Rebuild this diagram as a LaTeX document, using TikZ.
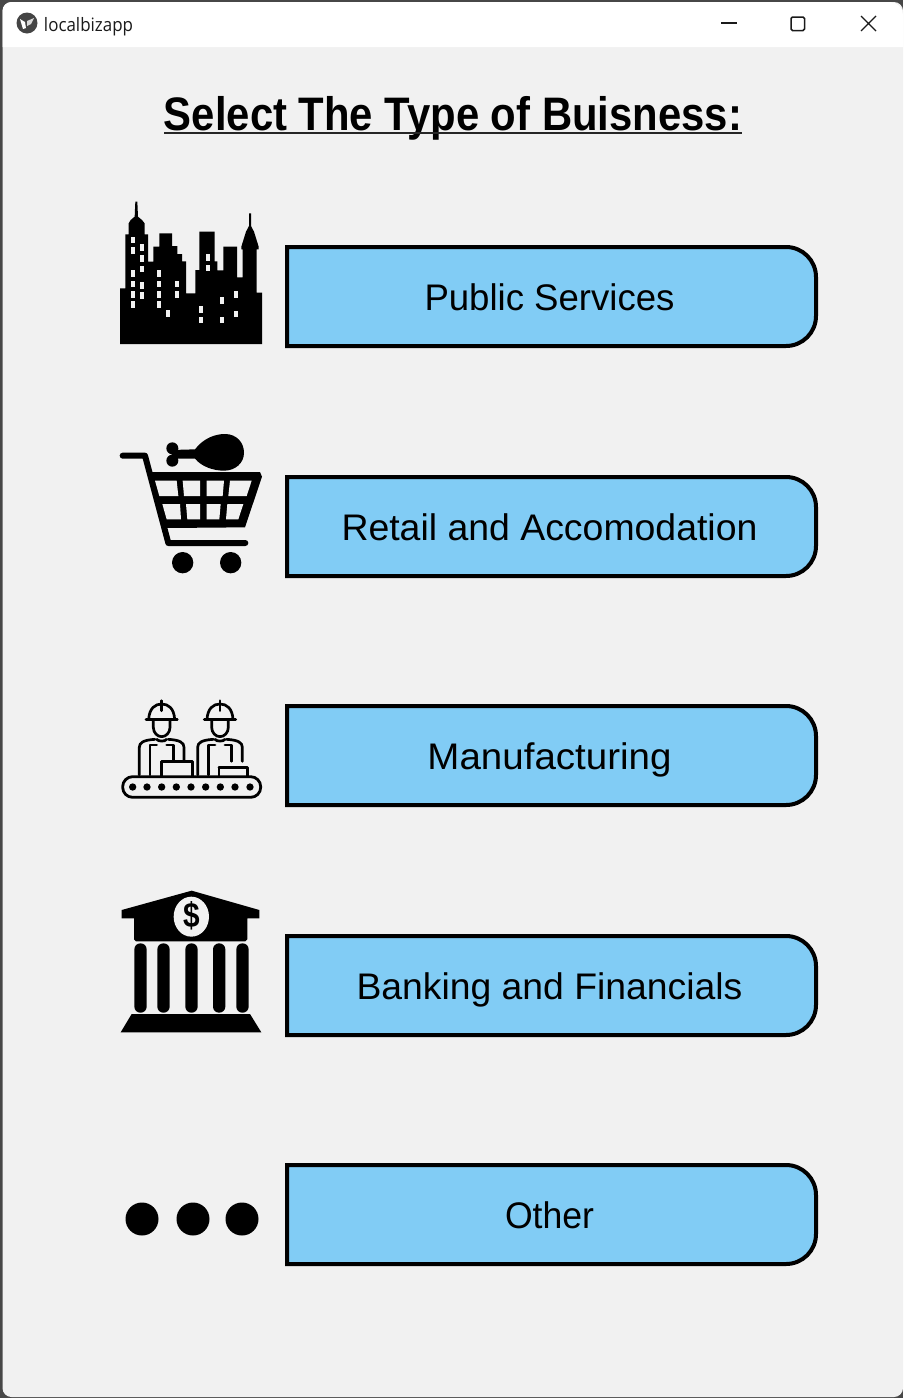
\documentclass[tikz,border=0pt]{standalone}
\usepackage{fontspec}
\usepackage{graphicx}
\setmainfont{Liberation Sans}
\newfontfamily\uifont{Open Sans}
\newcommand{\fitw}[3]{\resizebox{#1pt}{\height}{\fontsize{#2}{#2}\selectfont #3}}
\definecolor{bodybg}{HTML}{F1F1F1}
\definecolor{btnfill}{HTML}{81CCF5}
\definecolor{frameclr}{HTML}{474747}
\definecolor{ctrl}{HTML}{1A1A1A}
\tikzset{
  btn/.style={draw=black,line width=4pt,fill=btnfill},
  btntext/.style={anchor=base,inner sep=0pt,text=black},
  workerline/.style={draw=black,line width=2.7pt,line cap=round,line join=round},
  iconscope/.style={scale=0.33333},
  ctrlline/.style={draw=ctrl,line width=1.1pt}
}
\newcommand{\mybutton}[4]{%
  \draw[btn] (287,#1) -- (786,#1) arc[start angle=90,end angle=0,radius=30pt] -- (816,#1+69) arc[start angle=0,end angle=-90,radius=30pt] -- (287,#1+99) -- cycle;
  \node[btntext] (#4) at (549.5,#1+63.5) {\fitw{#2}{37}{#3}};
}
\newcommand{\worker}{%
  \draw[workerline] (138,88) -- (232,88);
  \draw[workerline] (146,88) .. controls (148,55) and (165,42) .. (185,42) .. controls (205,42) and (222,55) .. (224,88);
  \draw[workerline] (185,32) -- (185,62);
  \draw[workerline] (160,92) -- (160,112) .. controls (160,128) and (172,140) .. (185,140) .. controls (198,140) and (210,128) .. (210,112) -- (210,92);
  \draw[workerline] (118,255) -- (118,172) .. controls (118,158) and (130,150) .. (165,148);
  \draw[workerline] (205,148) .. controls (240,150) and (252,158) .. (252,172) -- (252,214);
  \draw[workerline] (150,255) -- (150,165) -- (170,165);
  \draw[workerline] (200,165) -- (220,165) -- (220,214);
  \draw[workerline] (170,148) .. controls (175,155) and (195,155) .. (200,148);
}
\begin{document}
\begin{tikzpicture}[x=1pt,y=-1pt]
\useasboundingbox (0,0) rectangle (903,1398);
\fill[frameclr] (0,0) rectangle (903,1398);
% window
\fill[bodybg,rounded corners=9pt] (2.5,2) rectangle (903,1397);
\fill[white] (2.5,47) -- (2.5,11) arc[start angle=180,end angle=90,radius=9pt] -- (890,2) arc[start angle=90,end angle=0,radius=13pt] -- (903,47) -- cycle;
% title bar
\fill[frameclr!95!black] (27,23) circle[radius=10.5pt];
\fill[white] (20,19) -- (25,22) -- (26,28) -- (23,29) -- cycle;
\fill[white!85!black] (27,21) -- (34,18) -- (31,24) -- (27,26) -- cycle;
\node[anchor=base,inner sep=0pt,text=ctrl] (apptitle) at (88.5,31) {\fitw{89}{18.5}{\uifont localbizapp}};
\draw[ctrlline] (721,23) -- (737,23);
\draw[ctrlline,line width=1.5pt,rounded corners=1.5pt] (791,17) rectangle (804.5,30.5);
\draw[ctrlline] (861,16) -- (876,31) (876,16) -- (861,31);
% heading
\node[anchor=base,inner sep=0pt] (heading) at (453,130) {\fitw{578}{47}{\bfseries Select The Type of Buisness:}};
\fill[black!85] (164,132) rectangle (742,133.8);
% buttons
\mybutton{247}{250}{Public Services}{b1}
\mybutton{477}{416}{Retail and Accomodation}{b2}
\mybutton{706}{244}{Manufacturing}{b3}
\mybutton{936}{386}{Banking and Financials}{b4}
\mybutton{1165}{89}{Other}{b5}
% city icon
\begin{scope}[shift={(100,190)},iconscope]
\fill[black] (60,462) -- (60,295) -- (76,295) -- (76,133) -- (86,133) -- (86,100) -- (92,90) -- (104,80) -- (106,35) -- (112,35) -- (114,80) -- (126,90) -- (134,100) -- (134,133) -- (144,133) -- (144,215) -- (160,215) -- (160,170) -- (178,170) -- (178,130) -- (216,130) -- (216,168) -- (232,168) -- (232,192) -- (246,192) -- (246,214) -- (258,214) -- (258,310) -- (286,310) -- (286,240) -- (298,240) -- (298,125) -- (344,125) -- (344,214) -- (352,214) -- (352,241) -- (370,241) -- (370,170) -- (411,170) -- (411,262) -- (428,262) -- (428,178) -- (424,178) -- (424,170) -- (438,125) -- (447,108) -- (447,70) -- (453,70) -- (453,108) -- (462,125) -- (476,170) -- (476,178) -- (470,178) -- (470,308) -- (486,308) -- (486,462) -- cycle;
\foreach \wx/\wy in {100/150,100/182,127/173,127/205,127/237,100/250,100/282,127/286,100/313,127/317,100/344,177/250,177/282,177/313,177/344,231/282,231/313,203/371,323/203,323/234,304/358,304/390,366/332,366/390,409/314,409/372}
  \fill[bodybg] (\wx-6,\wy-10) rectangle (\wx+6,\wy+10);
\end{scope}
% cart icon
\begin{scope}[shift={(100,420)},iconscope]
\draw[black,line width=6pt,line join=round,line cap=round] (68,107) -- (135,107) -- (205,369) -- (436,369);
\fill[black] (148,156) -- (480,156) -- (486,170) -- (435,322) -- (200,324) -- cycle;
\foreach \pts in {{(165,182) -- (230,182) -- (235,228) -- (178,228)},{(248,182) -- (300,182) -- (300,228) -- (252,228)},{(320,182) -- (372,182) -- (368,228) -- (320,228)},{(390,182) -- (455,182) -- (440,228) -- (385,228)},{(187,252) -- (240,252) -- (243,298) -- (200,298)},{(258,252) -- (300,252) -- (300,298) -- (262,298)},{(320,252) -- (362,252) -- (358,298) -- (320,298)},{(382,252) -- (430,252) -- (415,298) -- (378,298)}}
  \fill[bodybg] \pts -- cycle;
\fill[black] (248,428) circle[radius=32];
\fill[black] (392,428) circle[radius=32];
\fill[black] (215,90) -- (285,88) .. controls (310,55) and (345,42) .. (375,42) .. controls (410,42) and (432,68) .. (432,98) .. controls (432,130) and (405,152) .. (372,152) .. controls (340,152) and (305,140) .. (285,116) -- (215,116) -- cycle;
\fill[black] (217,85) circle[radius=18];
\fill[black] (217,122) circle[radius=18];
\end{scope}
% workers icon
\begin{scope}[shift={(100,690)},iconscope]
\worker
\begin{scope}[xshift=175pt]\worker\end{scope}
\draw[workerline] (185,215) -- (277,215) -- (277,258);
\draw[workerline] (185,215) -- (185,258);
\draw[workerline] (357,232) -- (443,232) -- (443,258);
\draw[workerline] (357,232) -- (357,258);
\draw[black,line width=2.8pt,rounded corners=10pt] (68,260) rectangle (482,322);
\foreach \dx in {98,141,185,229,273,317,361,405,450}
  \fill[black] (\dx,291) circle[radius=11];
\end{scope}
% bank icon
\begin{scope}[shift={(100,880)},iconscope]
\fill[black] (65,90) -- (275,32) -- (478,90) -- (478,115) -- (442,115) -- (442,178) -- (436,184) -- (108,184) -- (102,178) -- (102,115) -- (65,115) -- cycle;
\fill[bodybg] (274,110) ellipse[x radius=53,y radius=60];
\node[inner sep=0pt,text=black] (dollar) at (274,108) {\scalebox{0.85}[1]{\fontsize{35}{35}\selectfont\bfseries\$}};
\foreach \cx in {121.5,190.5,274.5,357.5,427.5}
  \fill[black,rounded corners=6pt] (\cx-18.5,190) rectangle (\cx+18.5,398);
\fill[black] (95,402) -- (450,402) -- (484,457) -- (62,457) -- cycle;
\end{scope}
% dots icon
\fill[black] (142,1219) circle[radius=16.5];
\fill[black] (193,1219) circle[radius=16.5];
\fill[black] (242,1219) circle[radius=16.5];
\end{tikzpicture}
\end{document}
